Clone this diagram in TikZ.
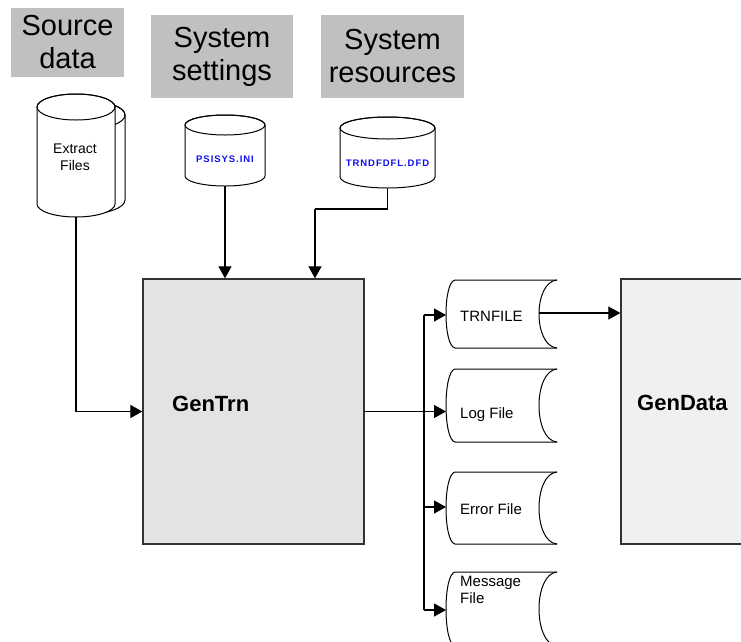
\documentclass[tikz,border=0pt]{standalone}
\usepackage{fontspec}
\setmainfont{Liberation Sans}
\newfontfamily\spacedfont[LetterSpace=10]{Liberation Sans}
\usetikzlibrary{arrows.meta}
\definecolor{hdrgray}{HTML}{C0C0C0}
\definecolor{boxline}{HTML}{333333}
\definecolor{trnfill}{HTML}{E3E3E3}
\definecolor{datafill}{HTML}{F0F0F0}
\definecolor{fileblue}{HTML}{1010F0}
\tikzset{
  conn/.style={line width=1.2pt, draw=black},
  arr/.style={conn, -{Triangle[length=12pt,width=13pt]}},
  hdr/.style={fill=hdrgray, draw=none, align=center, inner sep=0pt,
              font=\fontsize{29}{33}\selectfont},
  procbox/.style={draw=boxline, line width=1.3pt, inner sep=0pt},
  proclbl/.style={anchor=west, inner sep=0pt, font=\fontsize{22}{26}\selectfont\bfseries},
  shapeline/.style={draw=black, line width=1pt},
  filelbl/.style={anchor=base west, align=left, inner sep=0pt,
                  font=\fontsize{15}{17}\selectfont},
  cyllbl/.style={anchor=base, align=center, inner sep=0pt,
                 font=\fontsize{14}{17}\selectfont},
  bluelbl/.style={anchor=base, inner sep=0pt, text=fileblue,
                  font=\spacedfont\fontsize{9.5}{11}\selectfont\bfseries},
}
% vertical cylinder: name, cx, w, yt, yb, ry
\newcommand{\vcylinder}[6]{%
  \path[shapeline, fill=white] (#2-#3,#4) -- (#2-#3,#5)
     arc[start angle=180, end angle=0, x radius=#3, y radius=#6]
     -- (#2+#3,#4)
     arc[start angle=0, end angle=-180, x radius=#3, y radius=#6] -- cycle;
  \draw[shapeline] (#2,#4) ellipse [x radius=#3, y radius=#6];
  \coordinate (#1-bot) at (#2,#5+#6);
}
% horizontal file: name, L, t, b (right end fixed at 557)
\newcommand{\hfileshape}[4]{%
  \draw[shapeline] (557,#3) -- (#2,#3) .. controls (#2-12,#3+2) and (#2-12,#4-2) .. (#2,#4) -- (557,#4);
  \draw[shapeline] (557,#3) .. controls (533,#3+2) and (533,#4-2) .. (557,#4);
}
\begin{document}
\begin{tikzpicture}[x=1pt, y=-1pt]
\useasboundingbox (0,0) rectangle (741,641);
\clip (0,0) rectangle (741,641);
\fill[white] (0,0) rectangle (741,641);

% headers
\node[hdr, minimum width=113pt, minimum height=69pt] (h-src) at (67.5,42.5) {Source\\data};
\node[hdr, minimum width=142pt, minimum height=83pt] (h-set) at (222,56.5) {System\\settings};
\node[hdr, minimum width=143pt, minimum height=83pt] (h-res) at (392.5,56.5) {System\\resources};

% source data cylinders
\vcylinder{extback}{87}{38}{115}{200}{14}
\vcylinder{ext}{76}{39}{107}{204}{13}
\node[cyllbl] (ext-lbl) at (75,170) {Extract\\Files};

% system settings cylinder
\vcylinder{psi}{225}{40}{125}{176}{10}
\node[bluelbl] (psi-lbl) at (225,162) {PSISYS.INI};

% system resources cylinder
\vcylinder{res}{387.5}{47.5}{128}{177}{11}
\node[bluelbl] (res-lbl) at (387.5,166) {TRNDFDFL.DFD};

% process boxes
\node[procbox, fill=trnfill, minimum width=221pt, minimum height=265pt] (gentrn) at (253.5,411.5) {};
\node[proclbl] (gentrn-lbl) at (172,404) {GenTrn};
\node[procbox, fill=datafill, minimum width=169pt, minimum height=265pt] (gendata) at (705.5,411.5) {};
\node[proclbl] (gendata-lbl) at (637,403) {GenData};

% output files
\hfileshape{trn}{455}{280}{348}
\hfileshape{log}{455}{369}{442}
\hfileshape{err}{455}{472}{544}
\hfileshape{msg}{455}{572}{646}
\node[filelbl] (trn-lbl) at (460,321) {TRNFILE};
\node[filelbl] (log-lbl) at (460,418) {Log File};
\node[filelbl] (err-lbl) at (460,514) {Error File};
\node[filelbl] (msg-lbl) at (460,603) {Message\\File};

\coordinate (trn-in) at (446,315);
\coordinate (log-in) at (446,411.5);
\coordinate (err-in) at (446,507);
\coordinate (msg-in) at (446,610);
\coordinate (trn-out) at (539,313);
\coordinate (trunk-top) at (424,315);
\coordinate (trunk-bot) at (424,610);
\coordinate (err-tap) at (424,507);
\coordinate (split) at (424,411.5);
\coordinate (res-bend) at (387.5,209);
\coordinate (res-drop) at (315,209);

% connectors
\draw[arr] (ext-bot) |- (gentrn.west);
\draw[arr] (psi-bot) -- (psi-bot |- gentrn.north);
\draw[conn] (res-bot) -- (res-bend) -- (res-drop);
\draw[arr] (res-drop) -- (res-drop |- gentrn.north);
\draw[conn] (gentrn.east) -- (split);
\draw[conn] (trunk-top) -- (trunk-bot);
\draw[arr] (trunk-top) -- (trn-in);
\draw[arr] (split) -- (log-in);
\draw[arr] (err-tap) -- (err-in);
\draw[arr] (trunk-bot) -- (msg-in);
\draw[arr] (trn-out) -- (trn-out -| gendata.west);
\end{tikzpicture}
\end{document}
